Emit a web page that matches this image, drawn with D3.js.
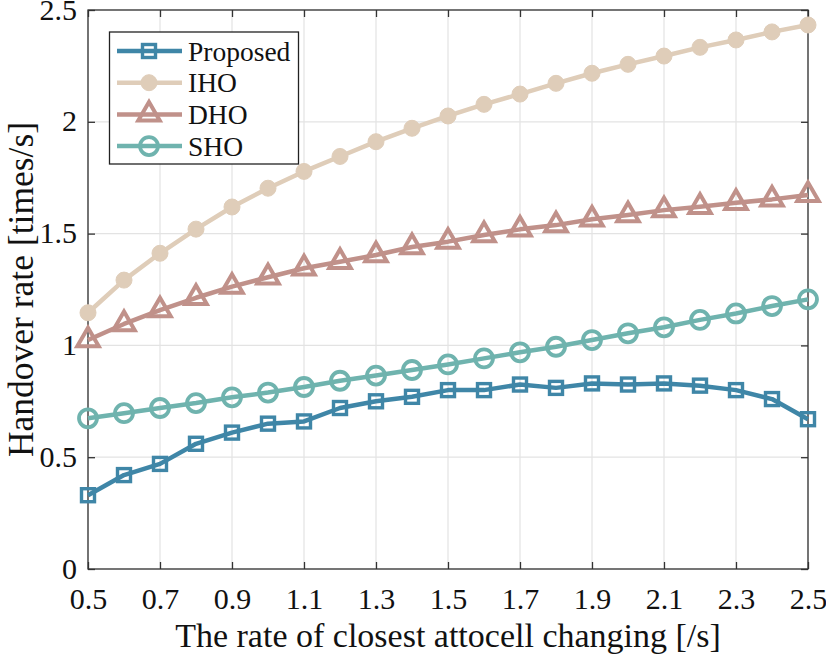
<!DOCTYPE html>
<html><head><meta charset="utf-8">
<script src="https://cdn.jsdelivr.net/npm/d3@7"></script>
<style>body{margin:0;background:#fff}svg{display:block}text{font-family:"Liberation Serif","Times New Roman",serif;fill:#111}</style>
</head><body><svg id="c" width="826" height="656"></svg>
<script>
const xValues = [0.5,0.6,0.7,0.8,0.9,1.0,1.1,1.2,1.3,1.4,1.5,1.6,1.7,1.8,1.9,2.0,2.1,2.2,2.3,2.4,2.5];
const proposed = [0.33,0.42,0.47,0.56,0.61,0.65,0.66,0.72,0.75,0.77,0.80,0.80,0.825,0.81,0.83,0.825,0.83,0.82,0.80,0.76,0.67];
const iho = [1.146,1.292,1.412,1.52,1.619,1.703,1.778,1.845,1.911,1.971,2.026,2.078,2.124,2.172,2.217,2.257,2.294,2.333,2.366,2.402,2.433];
const dho = [1.024,1.096,1.158,1.213,1.263,1.305,1.345,1.374,1.404,1.44,1.464,1.494,1.519,1.538,1.564,1.583,1.605,1.62,1.638,1.653,1.673];
const sho = [0.674,0.697,0.72,0.742,0.768,0.789,0.814,0.842,0.865,0.89,0.915,0.942,0.969,0.994,1.024,1.054,1.081,1.114,1.143,1.176,1.206];
const xTicks = [0.5,0.7,0.9,1.1,1.3,1.5,1.7,1.9,2.1,2.3,2.5];
const yTicks = [0,0.5,1,1.5,2,2.5];
const seriesNames = ["Proposed","IHO","DHO","SHO"];
const seriesColors = ["#3f86a7","#dfcdb9","#c0918a","#6fb3ae"];
const seriesMarkers = ["square","dot","triangle","circle"];

const svg = d3.select("#c");
const L=88,R=808,T=10,B=569;
const x = d3.scaleLinear().domain([0.5,2.5]).range([L,R]);
const y = d3.scaleLinear().domain([0,2.5]).range([B,T]);

// grid
const g = svg.append("g");
g.selectAll(".gx").data(xTicks).enter().append("line")
 .attr("x1",d=>x(d)).attr("x2",d=>x(d)).attr("y1",T).attr("y2",B)
 .attr("stroke","#e3e3e3").attr("stroke-width",1.2);
g.selectAll(".gy").data(yTicks).enter().append("line")
 .attr("x1",L).attr("x2",R).attr("y1",d=>y(d)).attr("y2",d=>y(d))
 .attr("stroke","#e3e3e3").attr("stroke-width",1.2);

// axes
const ax = svg.append("g").attr("transform",`translate(0,${B})`).call(d3.axisBottom(x).tickValues(xTicks).tickSize(-7).tickSizeOuter(0).tickPadding(19).tickFormat(d3.format(".1f")));
const axT = svg.append("g").attr("transform",`translate(0,${T})`).call(d3.axisTop(x).tickValues(xTicks).tickSize(-7).tickSizeOuter(0).tickFormat(""));
const ay = svg.append("g").attr("transform",`translate(${L},0)`).call(d3.axisLeft(y).tickValues(yTicks).tickSize(-7).tickSizeOuter(0).tickPadding(11).tickFormat(d=>d3.format("")(d)));
const ayR = svg.append("g").attr("transform",`translate(${R},0)`).call(d3.axisRight(y).tickValues(yTicks).tickSize(-7).tickSizeOuter(0).tickFormat(""));
[ax,axT,ay,ayR].forEach(a=>{
  a.select(".domain").remove();
  a.selectAll("line").attr("stroke","#333").attr("stroke-width",1.3);
  a.selectAll("text").attr("font-size",30).attr("fill","#111").attr("font-family","Liberation Serif");
});
ay.selectAll("text").attr("dy","0.3em");
svg.append("rect").attr("x",L).attr("y",T).attr("width",R-L).attr("height",B-T)
 .attr("fill","none").attr("stroke","#333").attr("stroke-width",1.3);

// axis titles
svg.append("text").attr("x",(L+R)/2).attr("y",647).attr("text-anchor","middle").attr("font-size",34)
 .text("The rate of closest attocell changing [/s]");
svg.append("text").attr("transform",`translate(33,${(T+B)/2}) rotate(-90)`).attr("text-anchor","middle").attr("font-size",35.5)
 .text("Handover rate [times/s]");

function drawMarker(sel, type, color){
  if(type==="square") sel.append("rect").attr("x",-6.5).attr("y",-6.5).attr("width",13).attr("height",13).attr("fill","none").attr("stroke",color).attr("stroke-width",3.4);
  else if(type==="dot") sel.append("circle").attr("r",8).attr("fill",color).attr("stroke",color).attr("stroke-width",1);
  else if(type==="triangle") sel.append("path").attr("d",d3.symbol(d3.symbolTriangle,200)()).attr("fill","none").attr("stroke",color).attr("stroke-width",4);
  else sel.append("circle").attr("r",9).attr("fill","none").attr("stroke",color).attr("stroke-width",3.8);
}

const allSeries = [proposed,iho,dho,sho];
const line = d3.line().x((d,i)=>x(xValues[i])).y(d=>y(d));
const drawOrder=[1,2,3,0];
drawOrder.forEach(k=>{
  const data = allSeries[k];
  svg.append("path").datum(data).attr("d",line).attr("fill","none").attr("stroke",seriesColors[k]).attr("stroke-width",4.5).attr("stroke-linejoin","round");
  svg.append("g").selectAll("g").data(data).enter().append("g")
   .attr("transform",(d,i)=>`translate(${x(xValues[i])},${y(d)})`)
   .each(function(){drawMarker(d3.select(this),seriesMarkers[k],seriesColors[k]);});
});

// legend
const lg = svg.append("g");
lg.append("rect").attr("x",109.5).attr("y",32).attr("width",189).attr("height",132).attr("fill","#fff").attr("stroke","#222").attr("stroke-width",1.3);
seriesNames.forEach((n,k)=>{
  const yy = 51 + k*31.7;
  lg.append("line").attr("x1",117).attr("x2",182).attr("y1",yy).attr("y2",yy).attr("stroke",seriesColors[k]).attr("stroke-width",4.5);
  const m = lg.append("g").attr("transform",`translate(149,${yy})`);
  drawMarker(m,seriesMarkers[k],seriesColors[k]);
  lg.append("text").attr("x",188).attr("y",yy+9.5).attr("font-size",27.5).text(n);
});
</script></body></html>
